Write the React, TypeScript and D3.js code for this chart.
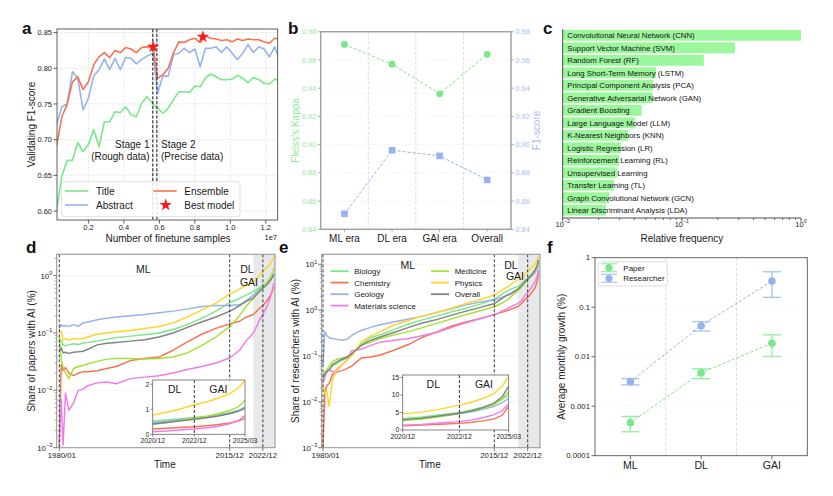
import { useEffect, useRef } from "react";
import * as d3 from "d3";

const FONT = "'Liberation Sans', Arial, Helvetica, sans-serif";
const INK = "#1a1a1a";
const GREEN = "#78e888";
const BLUE = "#95b3ef";
const RED = "#f6734f";
const PINK = "#f07ce9";
const LIME = "#a3e232";
const GOLD = "#ffd52a";
const GRAY = "#808482";
const BAR = "#9cf79c";

// a: validation F1 while fine-tuning (x in 1e7 samples)
const aSamples = [0.02, 0.05, 0.08, 0.11, 0.14, 0.17, 0.2, 0.23, 0.26, 0.29, 0.32, 0.35, 0.38, 0.41, 0.44, 0.47, 0.5, 0.53, 0.565,
  0.59, 0.62, 0.65, 0.68, 0.71, 0.74, 0.77, 0.8, 0.83, 0.86, 0.89, 0.92, 0.95, 0.98, 1.01, 1.04, 1.07, 1.1, 1.13, 1.16, 1.19, 1.22, 1.25, 1.267];
const aTitle = [0.6, 0.648, 0.671, 0.671, 0.696, 0.683, 0.693, 0.714, 0.69, 0.725, 0.725, 0.739, 0.738, 0.746, 0.735, 0.732, 0.751, 0.76, 0.75,
  0.744, 0.737, 0.744, 0.756, 0.767, 0.767, 0.766, 0.775, 0.774, 0.787, 0.792, 0.788, 0.784, 0.784, 0.785, 0.79, 0.786, 0.78, 0.787, 0.784, 0.779, 0.778, 0.785, 0.783];
const aAbstract = [0.72, 0.746, 0.75, 0.795, 0.786, 0.742, 0.758, 0.789, 0.798, 0.813, 0.798, 0.814, 0.798, 0.815, 0.814, 0.806, 0.812, 0.817, 0.821,
  0.765, 0.789, 0.789, 0.819, 0.821, 0.828, 0.822, 0.827, 0.802, 0.828, 0.828, 0.83, 0.822, 0.83, 0.821, 0.812, 0.821, 0.833, 0.822, 0.83, 0.827, 0.816, 0.83, 0.819];
const aEnsemble = [0.69, 0.732, 0.749, 0.781, 0.788, 0.77, 0.781, 0.805, 0.816, 0.822, 0.815, 0.825, 0.822, 0.829, 0.827, 0.822, 0.829, 0.83, 0.83,
  0.786, 0.791, 0.8, 0.822, 0.837, 0.836, 0.84, 0.842, 0.836, 0.845, 0.842, 0.841, 0.839, 0.84, 0.837, 0.841, 0.839, 0.841, 0.84, 0.84, 0.837, 0.835, 0.842, 0.841];
const aBestX = [0.565, 0.845];
const aBestY = [0.83, 0.844];
const aStageSplit = [0.563, 0.586];
const aXTicks = [0.2, 0.4, 0.6, 0.8, 1.0, 1.2];
const aYTicks = [0.6, 0.65, 0.7, 0.75, 0.8, 0.85];

// b: agreement and F1 per era
const bEras = ["ML era", "DL era", "GAI era", "Overall"];
const bKappa = [0.971, 0.957, 0.936, 0.964];
const bF1 = [0.851, 0.896, 0.892, 0.875];
const bTicks = [0.84, 0.86, 0.88, 0.9, 0.92, 0.94, 0.96, 0.98];

// c: method frequency
const cMethods = [
  "Convolutional Neural Network (CNN)", "Support Vector Machine (SVM)", "Random Forest (RF)", "Long Short-Term Memory (LSTM)",
  "Principal Component Analysis (PCA)", "Generative Adversarial Network (GAN)", "Gradient Boosting", "Large Language Model (LLM)",
  "K-Nearest Neighbors (KNN)", "Logistic Regression (LR)", "Reinforcement Learning (RL)", "Unsupervised Learning",
  "Transfer Learning (TL)", "Graph Convolutional Network (GCN)", "Linear Discriminant Analysis (LDA)",
];
const cFreq = [1.0, 0.279, 0.153, 0.0607, 0.0575, 0.0567, 0.046, 0.0404, 0.0356, 0.0307, 0.0299, 0.0287, 0.0269, 0.0246, 0.0231];

// d / e: shares over time (%)
const tYears = [1980, 1980.4, 1980.8, 1981.3, 1982, 1983, 1984, 1985, 1986, 1988, 1990, 1992, 1995, 1998, 2001, 2004, 2007, 2010, 2013, 2016,
  2018, 2019.5, 2020.92, 2021.6, 2022.2, 2022.92, 2023.5, 2024, 2024.5, 2024.9, 2025.2];
const dBiology = [0.07, 0.075, 0.062, 0.06, 0.062, 0.065, 0.063, 0.067, 0.068, 0.072, 0.078, 0.083, 0.088, 0.093, 0.1, 0.115, 0.14, 0.18, 0.24, 0.34,
  0.4, 0.46, 0.53, 0.57, 0.61, 0.67, 0.72, 0.78, 0.86, 0.96, 1.1];
const dChemistry = [0.0012, 0.028, 0.022, 0.025, 0.02, 0.018, 0.02, 0.021, 0.021, 0.022, 0.024, 0.026, 0.033, 0.036, 0.038, 0.05, 0.07, 0.095, 0.12, 0.145,
  0.16, 0.19, 0.21, 0.24, 0.27, 0.3, 0.34, 0.39, 0.45, 0.53, 0.64];
const dGeology = [0.12, 0.14, 0.13, 0.135, 0.13, 0.14, 0.13, 0.15, 0.155, 0.17, 0.18, 0.19, 0.2, 0.21, 0.225, 0.24, 0.26, 0.29, 0.3, 0.3,
  0.31, 0.37, 0.46, 0.52, 0.58, 0.64, 0.7, 0.76, 0.84, 0.94, 1.07];
const dMaterials = [0.001, 0.007, 0.0011, 0.009, 0.0045, 0.006, 0.01, 0.0105, 0.012, 0.0135, 0.014, 0.013, 0.016, 0.017, 0.018, 0.02, 0.023, 0.026, 0.03, 0.037,
  0.05, 0.075, 0.1, 0.13, 0.17, 0.21, 0.26, 0.32, 0.42, 0.55, 0.75];
const dMedicine = [0.09, 0.035, 0.025, 0.02, 0.016, 0.024, 0.026, 0.027, 0.029, 0.032, 0.035, 0.036, 0.036, 0.035, 0.036, 0.038, 0.045, 0.06, 0.085, 0.13,
  0.2, 0.3, 0.4, 0.47, 0.55, 0.64, 0.72, 0.82, 0.95, 1.1, 1.35];
const dPhysics = [0.1, 0.11, 0.075, 0.08, 0.075, 0.08, 0.078, 0.08, 0.085, 0.095, 0.1, 0.105, 0.11, 0.12, 0.13, 0.15, 0.19, 0.25, 0.33, 0.48,
  0.58, 0.68, 0.77, 0.88, 1.0, 1.18, 1.3, 1.45, 1.62, 1.85, 2.15];
const dOverall = [0.05, 0.055, 0.045, 0.046, 0.044, 0.046, 0.047, 0.048, 0.052, 0.062, 0.066, 0.068, 0.072, 0.076, 0.085, 0.1, 0.125, 0.155, 0.19, 0.24,
  0.3, 0.36, 0.41, 0.47, 0.53, 0.6, 0.66, 0.73, 0.82, 0.92, 1.04];

const eBiology = [0.03, 0.04, 0.045, 0.05, 0.06, 0.07, 0.08, 0.09, 0.11, 0.18, 0.25, 0.29, 0.38, 0.5, 0.62, 0.75, 0.92, 1.1, 1.35, 1.75,
  2.4, 2.9, 3.3, 3.7, 4.3, 5.0, 5.7, 6.5, 7.6, 8.8, 10.0];
const eChemistry = [0.001, 0.016, 0.023, 0.025, 0.04, 0.045, 0.048, 0.053, 0.06, 0.09, 0.095, 0.105, 0.135, 0.18, 0.26, 0.34, 0.45, 0.55, 0.66, 0.81,
  0.93, 1.05, 1.2, 1.4, 1.65, 1.9, 2.2, 2.6, 3.1, 4.2, 6.7];
const eGeology = [0.063, 0.34, 0.28, 0.25, 0.24, 0.23, 0.22, 0.23, 0.28, 0.36, 0.42, 0.48, 0.56, 0.64, 0.74, 0.9, 1.07, 1.3, 1.5, 1.68,
  2.0, 2.4, 2.9, 3.3, 3.9, 4.6, 5.2, 5.9, 6.7, 7.8, 9.0];
const eMaterials = [0.025, 0.035, 0.045, 0.05, 0.045, 0.05, 0.065, 0.08, 0.13, 0.14, 0.17, 0.2, 0.22, 0.24, 0.28, 0.33, 0.42, 0.53, 0.65, 0.8,
  1.0, 1.2, 1.4, 1.6, 2.0, 2.4, 2.9, 3.5, 4.3, 5.5, 7.5];
const eMedicine = [0.04, 0.045, 0.05, 0.06, 0.075, 0.085, 0.09, 0.095, 0.11, 0.17, 0.2, 0.24, 0.29, 0.34, 0.42, 0.52, 0.65, 0.8, 0.97, 1.2,
  1.5, 2.0, 2.7, 3.1, 3.8, 4.7, 5.4, 6.2, 7.2, 8.8, 11.0];
const ePhysics = [0.023, 0.015, 0.017, 0.008, 0.03, 0.055, 0.065, 0.08, 0.1, 0.2, 0.27, 0.34, 0.48, 0.6, 0.75, 0.9, 1.1, 1.4, 1.7, 2.15,
  2.9, 3.7, 4.6, 5.1, 5.9, 7.1, 8.0, 9.0, 10.3, 12.5, 15.2];
const eOverall = [0.035, 0.04, 0.045, 0.05, 0.065, 0.075, 0.085, 0.095, 0.11, 0.17, 0.22, 0.26, 0.33, 0.42, 0.53, 0.63, 0.78, 0.95, 1.15, 1.4,
  1.95, 2.3, 2.9, 3.4, 4.0, 4.8, 5.5, 6.4, 7.6, 9.5, 12.5];

const fieldNames = ["Biology", "Chemistry", "Geology", "Materials science", "Medicine", "Physics", "Overall"];
const fieldColors = [GREEN, RED, BLUE, PINK, LIME, GOLD, GRAY];
const tEraTicks = [1980, 2015.92, 2022.92];
const tEraLabels = ["1980/01", "2015/12", "2022/12"];
const insetTicks = [2020.92, 2022.92, 2025.2];
const insetLabels = ["2020/12", "2022/12", "2025/03"];

// f: average monthly growth (%)
const fEras = ["ML", "DL", "GAI"];
const fPaper = [0.000464, 0.00475, 0.0186];
const fPaperLo = [0.000305, 0.0036, 0.0101];
const fPaperHi = [0.00062, 0.0057, 0.0276];
const fResearcher = [0.00313, 0.0423, 0.338];
const fResearcherLo = [0.0027, 0.033, 0.158];
const fResearcherHi = [0.0036, 0.0512, 0.52];
const fTicks = [1e-4, 1e-3, 1e-2, 1e-1, 1];
const fTickLabels = ["0.0001", "0.001", "0.01", "0.1", "1"];

type G = d3.Selection<any, unknown, null, undefined>;

function txt(g: G, x: number, y: number, s: string, size: number, anchor = "middle", fill = INK, weight = "normal") {
  return g.append("text").attr("x", x).attr("y", y).attr("font-family", FONT).attr("font-size", size)
    .attr("text-anchor", anchor).attr("fill", fill).attr("font-weight", weight).text(s);
}

function vtxt(g: G, x: number, y: number, s: string, size: number, fill = INK) {
  return g.append("text").attr("transform", `translate(${x},${y}) rotate(-90)`)
    .attr("font-family", FONT).attr("font-size", size).attr("text-anchor", "middle").attr("fill", fill).text(s);
}

function pow10(g: G, x: number, y: number, e: number, size: number, anchor: string) {
  const t = g.append("text").attr("x", x).attr("y", y).attr("font-family", FONT).attr("font-size", size)
    .attr("text-anchor", anchor).attr("fill", INK);
  t.append("tspan").text("10");
  t.append("tspan").attr("dy", -size * 0.45).attr("font-size", size * 0.7).text(e < 0 ? `\u2212${-e}` : String(e));
}

function line(g: G, x1: number, y1: number, x2: number, y2: number, stroke: string, w: number, dash?: string) {
  const l = g.append("line").attr("x1", x1).attr("y1", y1).attr("x2", x2).attr("y2", y2)
    .attr("stroke", stroke).attr("stroke-width", w);
  if (dash) l.attr("stroke-dasharray", dash);
  return l;
}

function box(g: G, L: number, T: number, R: number, B: number, stroke: string, w: number) {
  g.append("rect").attr("x", L).attr("y", T).attr("width", R - L).attr("height", B - T)
    .attr("fill", "none").attr("stroke", stroke).attr("stroke-width", w);
}

function clip(defs: G, id: string, L: number, T: number, R: number, B: number) {
  defs.append("clipPath").attr("id", id).append("rect").attr("x", L).attr("y", T).attr("width", R - L).attr("height", B - T);
}

function star(g: G, x: number, y: number, size: number) {
  g.append("path").attr("d", d3.symbol(d3.symbolStar, size)()).attr("transform", `translate(${x},${y})`).attr("fill", "#ff1717");
}

function drawA(svg: G, defs: G) {
  const L = 57, R = 277.7, T = 29, B = 220;
  const x = d3.scaleLinear().domain([0.023, 1.267]).range([L, R]);
  const y = d3.scaleLinear().domain([0.5874, 0.855]).range([B, T]);
  const g = svg.append("g");
  clip(defs, "clipA", L, T, R, B);

  aXTicks.forEach((v) => line(g, x(v), T, x(v), B, "#cfcfcf", 0.6, "1.6,1.6"));
  aYTicks.forEach((v) => line(g, L, y(v), R, y(v), "#cfcfcf", 0.6, "1.6,1.6"));

  const lg = g.append("g").attr("clip-path", "url(#clipA)");
  const path = d3.line<number>().x((_, i) => x(aSamples[i])).y((d) => y(d));
  const series: [number[], string][] = [[aTitle, GREEN], [aAbstract, BLUE], [aEnsemble, RED]];
  series.forEach(([vals, c]) =>
    lg.append("path").attr("d", path(vals)).attr("fill", "none").attr("stroke", c)
      .attr("stroke-width", 1.6).attr("stroke-linejoin", "round"));

  aStageSplit.forEach((v) => line(g, x(v), T, x(v), B, "#222", 1.1, "3.2,1.6"));
  aBestX.forEach((v, i) => star(g, x(v), y(aBestY[i]), 48));

  box(g, L, T, R, B, "#3a3a3a", 0.8);
  aXTicks.forEach((v) => {
    line(g, x(v), B, x(v), B + 3.5, "#333", 0.8);
    txt(g, x(v), B + 9.8, v.toFixed(1), 7.5);
  });
  aYTicks.forEach((v) => {
    line(g, L - 3.5, y(v), L, y(v), "#333", 0.8);
    txt(g, L - 5, y(v) + 2.7, v.toFixed(2), 7.5, "end");
  });
  txt(g, 277, 239.5, "1e7", 7.5, "end");
  txt(g, 168, 241.5, "Number of finetune samples", 10);
  vtxt(g, 35, 124.5, "Validating F1-score", 10);

  txt(g, 149.5, 148, "Stage 1", 10, "end");
  txt(g, 149.5, 160, "(Rough data)", 10, "end");
  txt(g, 161, 148, "Stage 2", 10, "start");
  txt(g, 161, 160, "(Precise data)", 10, "start");

  g.append("rect").attr("x", 61.7).attr("y", 181.7).attr("width", 178.3).attr("height", 35).attr("rx", 2.5)
    .attr("fill", "#fff").attr("fill-opacity", 0.85).attr("stroke", "#d8d8d8").attr("stroke-width", 0.8);
  line(g, 65, 191, 88.3, 191, GREEN, 1.6);
  txt(g, 96, 194.5, "Title", 10, "start");
  line(g, 65, 205, 88.3, 205, BLUE, 1.6);
  txt(g, 96, 208.5, "Abstract", 10, "start");
  line(g, 153.3, 191, 176.7, 191, RED, 1.6);
  txt(g, 184.3, 194.5, "Ensemble", 10, "start");
  star(g, 165.7, 205, 48);
  txt(g, 184.3, 208.5, "Best model", 10, "start");

  txt(g, 22, 34, "a", 17, "start", "#111", "bold");
}

function drawB(svg: G) {
  const L = 320.7, R = 511, T = 31.7, B = 229.3;
  const x = d3.scalePoint().domain(bEras).range([L, R]).padding(0.5);
  const y = d3.scaleLinear().domain([0.84, 0.98]).range([B, T]);
  const g = svg.append("g");
  bTicks.slice(1, -1).forEach((v) => line(g, L, y(v), R, y(v), "#e6e6e6", 0.6, "1.5,1.5"));
  for (let i = 1; i < bEras.length; i++) line(g, L + i * x.step(), T, L + i * x.step(), B, "#d2d2d2", 0.8, "3,2");

  const kx = (_: number, i: number) => x(bEras[i]) as number;
  g.append("path").attr("d", d3.line<number>().x(kx).y((d) => y(d))(bKappa))
    .attr("fill", "none").attr("stroke", GREEN).attr("stroke-width", 1).attr("stroke-dasharray", "3,2");
  g.append("path").attr("d", d3.line<number>().x(kx).y((d) => y(d))(bF1))
    .attr("fill", "none").attr("stroke", BLUE).attr("stroke-width", 1).attr("stroke-dasharray", "3,2");
  bKappa.forEach((v, i) => g.append("circle").attr("cx", kx(v, i)).attr("cy", y(v)).attr("r", 3.4).attr("fill", GREEN));
  bF1.forEach((v, i) => g.append("rect").attr("x", kx(v, i) - 3.3).attr("y", y(v) - 3.3)
    .attr("width", 6.6).attr("height", 6.6).attr("fill", BLUE));

  box(g, L, T, R, B, "#a2a2a2", 1.5);
  bTicks.forEach((v) => {
    line(g, L - 3, y(v), L, y(v), "#a2a2a2", 0.8);
    line(g, R, y(v), R + 3, y(v), "#a2a2a2", 0.8);
    txt(g, L - 4.5, y(v) + 2.6, v.toFixed(2), 7.3, "end", "#8fe99c");
    txt(g, R + 4.5, y(v) + 2.6, v.toFixed(2), 7.3, "start", "#a3bdf2");
  });
  bEras.forEach((e) => {
    line(g, x(e) as number, B, x(e) as number, B + 3, "#a2a2a2", 0.8);
    txt(g, x(e) as number, 241.5, e, 10);
  });
  vtxt(g, 298.5, 130.5, "Fleiss's Kappa", 10, "#8fe99c");
  vtxt(g, 540, 130.5, "F1-score", 10, "#a3bdf2");
  txt(g, 288, 34, "b", 17, "start", "#111", "bold");
}

function drawC(svg: G) {
  const L = 562.7, R = 801, T = 29, B = 216.5;
  const x = d3.scaleLog().domain([0.01, 1]).range([L, R]);
  const y = d3.scaleBand().domain(cMethods).range([T, B]).paddingInner(0.13).paddingOuter(0.07);
  const g = svg.append("g");
  cMethods.forEach((m, i) => {
    g.append("rect").attr("x", L).attr("y", y(m) as number).attr("width", x(cFreq[i]) - L)
      .attr("height", y.bandwidth()).attr("fill", BAR);
    txt(g, 567.3, (y(m) as number) + y.bandwidth() / 2 + 2.8, m, 7.8, "start", "#111");
  });
  line(g, L, T, L, B + 1.5, "#222", 0.8);
  line(g, L, B + 1.5, R, B + 1.5, "#222", 0.8);
  [-2, -1, 0].forEach((e) => {
    const xv = x(Math.pow(10, e));
    line(g, xv, B + 1.5, xv, B + 5, "#222", 0.8);
    pow10(g, xv, 226.5, e, 7.5, "middle");
  });
  [0.01, 0.1].forEach((d) => {
    for (let k = 2; k <= 9; k++) line(g, x(d * k), B + 1.5, x(d * k), B + 3.5, "#222", 0.6);
  });
  txt(g, (L + R) / 2, 241.5, "Relative frequency", 10);
  txt(g, 543, 34, "c", 17, "start", "#111", "bold");
}

type TimeCfg = {
  id: string; L: number; R: number; T: number; B: number; domain: [number, number]; yMax: number; exps: number[];
  series: number[][]; ylabel: string; ylabelX: number; eraText: [string, number, number][];
  inset: { L: number; R: number; T: number; B: number; split: number; yMax: number; ticks: number[]; text: [string, number, number][] };
  legend: boolean; letter: string; letterX: number;
};

function drawTime(svg: G, defs: G, c: TimeCfg) {
  const { L, R, T, B } = c;
  const x = d3.scaleLinear().domain(c.domain).range([L, R]);
  const y = d3.scaleLog().domain([1e-3, c.yMax]).range([B, T]);
  const g = svg.append("g");
  clip(defs, `clip${c.id}`, L, T, R, B);
  g.append("rect").attr("x", x(2020.92)).attr("y", T).attr("width", R - x(2020.92)).attr("height", B - T).attr("fill", "#e7e8e9");
  c.exps.slice(1).forEach((e) => line(g, L, y(Math.pow(10, e)), R, y(Math.pow(10, e)), "#ececec", 0.6));

  const lg = g.append("g").attr("clip-path", `url(#clip${c.id})`);
  const path = d3.line<number>().x((_, i) => x(tYears[i])).y((d) => y(d));
  c.series.forEach((vals, k) =>
    lg.append("path").attr("d", path(vals)).attr("fill", "none").attr("stroke", fieldColors[k])
      .attr("stroke-width", 1.45).attr("stroke-linejoin", "round"));
  tEraTicks.forEach((t) => line(g, x(t), T, x(t), B, "#222", 0.9, "3,2"));

  box(g, L, T, R, B, "#9a9a9a", 1.1);
  c.exps.forEach((e) => {
    line(g, L - 3.5, y(Math.pow(10, e)), L, y(Math.pow(10, e)), "#555", 0.8);
    pow10(g, L - 4.5, y(Math.pow(10, e)) + 3, e, 7.8, "end");
  });
  c.exps.forEach((e) => {
    for (let k = 2; k <= 9; k++) {
      const v = k * Math.pow(10, e);
      if (v < c.yMax) line(g, L - 2, y(v), L, y(v), "#555", 0.5);
    }
  });
  tEraTicks.forEach((t, i) => {
    line(g, x(t), B, x(t), B + 3.5, "#555", 0.8);
    txt(g, x(t) + (i === 0 ? 2.5 : 0), 458, tEraLabels[i], 7.8);
  });
  txt(g, (L + R) / 2 - 1, 468, "Time", 10);
  vtxt(g, c.ylabelX, (T + B) / 2, c.ylabel, 10);
  c.eraText.forEach(([s, tx, ty]) => txt(g, tx, ty, s, 10.5));

  // inset: linear zoom on the last years
  const n = c.inset;
  const ix = d3.scaleLinear().domain(insetTicks).range([n.L, n.L + n.split * (n.R - n.L), n.R]);
  const iy = d3.scaleLinear().domain([0, n.yMax]).range([n.B, n.T]);
  clip(defs, `clipI${c.id}`, n.L, n.T, n.R, n.B);
  g.append("rect").attr("x", n.L).attr("y", n.T).attr("width", n.R - n.L).attr("height", n.B - n.T).attr("fill", "#fff");
  const start = tYears.indexOf(2020.92);
  const ig = g.append("g").attr("clip-path", `url(#clipI${c.id})`);
  const ipath = d3.line<number>().x((_, i) => ix(tYears[start + i])).y((d) => iy(d));
  c.series.forEach((vals, k) =>
    ig.append("path").attr("d", ipath(vals.slice(start))).attr("fill", "none").attr("stroke", fieldColors[k])
      .attr("stroke-width", 1.4));
  line(g, ix(2022.92), n.T, ix(2022.92), n.B, "#222", 0.9, "3,2");
  box(g, n.L, n.T, n.R, n.B, "#666", 0.8);
  n.ticks.forEach((v) => {
    line(g, n.L - 2.5, iy(v), n.L, iy(v), "#444", 0.6);
    txt(g, n.L - 3.5, iy(v) + 2.4, String(v), 6.8, "end");
  });
  insetTicks.forEach((t, i) => {
    line(g, ix(t), n.B, ix(t), n.B + 2.5, "#444", 0.6);
    txt(g, ix(t), n.B + 9, insetLabels[i], 6.8);
  });
  n.text.forEach(([s, tx, ty]) => txt(g, tx, ty, s, 10.5));

  if (c.legend) {
    const rows = [271.2, 282.6, 294.2, 305.6];
    fieldNames.forEach((name, k) => {
      const col = k < 4 ? 0 : 1;
      const ly = rows[col === 0 ? k : k - 4];
      const lx = col === 0 ? 330.5 : 431;
      line(g, lx, ly, lx + 18, ly, fieldColors[k], 1.8);
      txt(g, lx + 23.7, ly + 2.9, name, 8, "start");
    });
  }
  txt(g, c.letterX, 253, c.letter, 17, "start", "#111", "bold");
}

function drawF(svg: G) {
  const L = 595, R = 807.3, T = 257.7, B = 455.7;
  const x = d3.scalePoint().domain(fEras).range([L, R]).padding(0.5);
  const y = d3.scaleLog().domain([1e-4, 1]).range([B, T]);
  const g = svg.append("g");
  fTicks.slice(1, -1).forEach((v) => line(g, L, y(v), R, y(v), "#ececec", 0.6, "1.5,1.5"));
  for (let i = 1; i < fEras.length; i++) line(g, L + i * x.step(), T, L + i * x.step(), B, "#d2d2d2", 0.8, "3,2");

  const groups: [number[], number[], number[], string][] = [
    [fPaper, fPaperLo, fPaperHi, GREEN],
    [fResearcher, fResearcherLo, fResearcherHi, BLUE],
  ];
  const px = (_: number, i: number) => x(fEras[i]) as number;
  groups.forEach(([vals, lo, hi, col]) => {
    g.append("path").attr("d", d3.line<number>().x(px).y((d) => y(d))(vals))
      .attr("fill", "none").attr("stroke", col).attr("stroke-width", 1).attr("stroke-dasharray", "3,2");
    vals.forEach((v, i) => {
      const cx = px(v, i);
      const eg = g.append("g").attr("opacity", 0.75);
      line(eg, cx, y(lo[i]), cx, y(hi[i]), col, 1.4);
      line(eg, cx - 9, y(lo[i]), cx + 9, y(lo[i]), col, 1.4);
      line(eg, cx - 9, y(hi[i]), cx + 9, y(hi[i]), col, 1.4);
      g.append("circle").attr("cx", cx).attr("cy", y(v)).attr("r", 3.8).attr("fill", col);
    });
  });

  box(g, L, T, R, B, "#555", 0.9);
  fTicks.forEach((v, i) => {
    line(g, L - 3.5, y(v), L, y(v), "#444", 0.8);
    txt(g, L - 5, y(v) + 2.7, fTickLabels[i], 7.8, "end");
  });
  fEras.forEach((e) => {
    line(g, x(e) as number, B, x(e) as number, B + 3.5, "#444", 0.8);
    txt(g, x(e) as number, 468.5, e, 10.5);
  });
  vtxt(g, 564.5, (T + B) / 2, "Average monthly growth (%)", 10);

  g.append("rect").attr("x", 598.3).attr("y", 261.7).attr("width", 69).attr("height", 24.3).attr("rx", 2)
    .attr("fill", "#fff").attr("fill-opacity", 0.85).attr("stroke", "#d0d0d0").attr("stroke-width", 0.7);
  const legend: [string, string, number][] = [["Paper", GREEN, 267.7], ["Researcher", BLUE, 278.3]];
  legend.forEach(([name, col, ly]) => {
    const eg = g.append("g").attr("opacity", 0.75);
    line(eg, 609, ly - 4, 609, ly + 4, col, 1.2);
    line(eg, 601, ly - 4, 617, ly - 4, col, 1.2);
    line(eg, 601, ly + 4, 617, ly + 4, col, 1.2);
    g.append("circle").attr("cx", 609).attr("cy", ly).attr("r", 3.6).attr("fill", col);
    txt(g, 623.3, ly + 2.8, name, 8, "start");
  });
  txt(g, 547, 253, "f", 17, "start", "#111", "bold");
}

const App = () => {
  const svgRef = useRef<SVGSVGElement | null>(null);

  useEffect(() => {
    if (!svgRef.current) return;
    const svg = d3.select(svgRef.current) as G;
    svg.selectAll("*").remove();
    const defs = svg.append("defs") as G;

    drawA(svg, defs);
    drawB(svg);
    drawC(svg);
    drawTime(svg, defs, {
      id: "D", L: 56.7, R: 275, T: 254.3, B: 447.7, domain: [1979.45, 2025.47], yMax: 2.35, exps: [-3, -2, -1, 0],
      series: [dBiology, dChemistry, dGeology, dMaterials, dMedicine, dPhysics, dOverall],
      ylabel: "Share of papers with AI (%)", ylabelX: 35.2,
      eraText: [["ML", 143.3, 272.5], ["DL", 247, 272.5], ["GAI", 249, 286]],
      inset: { L: 152.7, R: 245, T: 380, B: 434.3, split: 0.451, yMax: 2.17, ticks: [0, 1, 2],
        text: [["DL", 174.7, 393.3], ["GAI", 218.3, 393.3]] },
      legend: false, letter: "d", letterX: 26,
    });
    drawTime(svg, defs, {
      id: "E", L: 321.7, R: 540, T: 254.3, B: 447.7, domain: [1979.73, 2025.5], yMax: 16.5, exps: [-3, -2, -1, 0, 1],
      series: [eBiology, eChemistry, eGeology, eMaterials, eMedicine, ePhysics, eOverall],
      ylabel: "Share of researchers with AI (%)", ylabelX: 298.5,
      eraText: [["ML", 407.7, 268.5], ["DL", 511, 268.5], ["GAI", 515, 279.5]],
      inset: { L: 402.7, R: 508.7, T: 375, B: 430, split: 0.535, yMax: 15.7, ticks: [0, 5, 10, 15],
        text: [["DL", 433.3, 388.3], ["GAI", 484, 388.3]] },
      legend: true, letter: "e", letterX: 279,
    });
    drawF(svg);
  }, []);

  return (
    <svg ref={svgRef} width={833} height={496}
      style={{ position: "absolute", left: 0, top: 0, background: "#fff" }} />
  );
};

export default App;
